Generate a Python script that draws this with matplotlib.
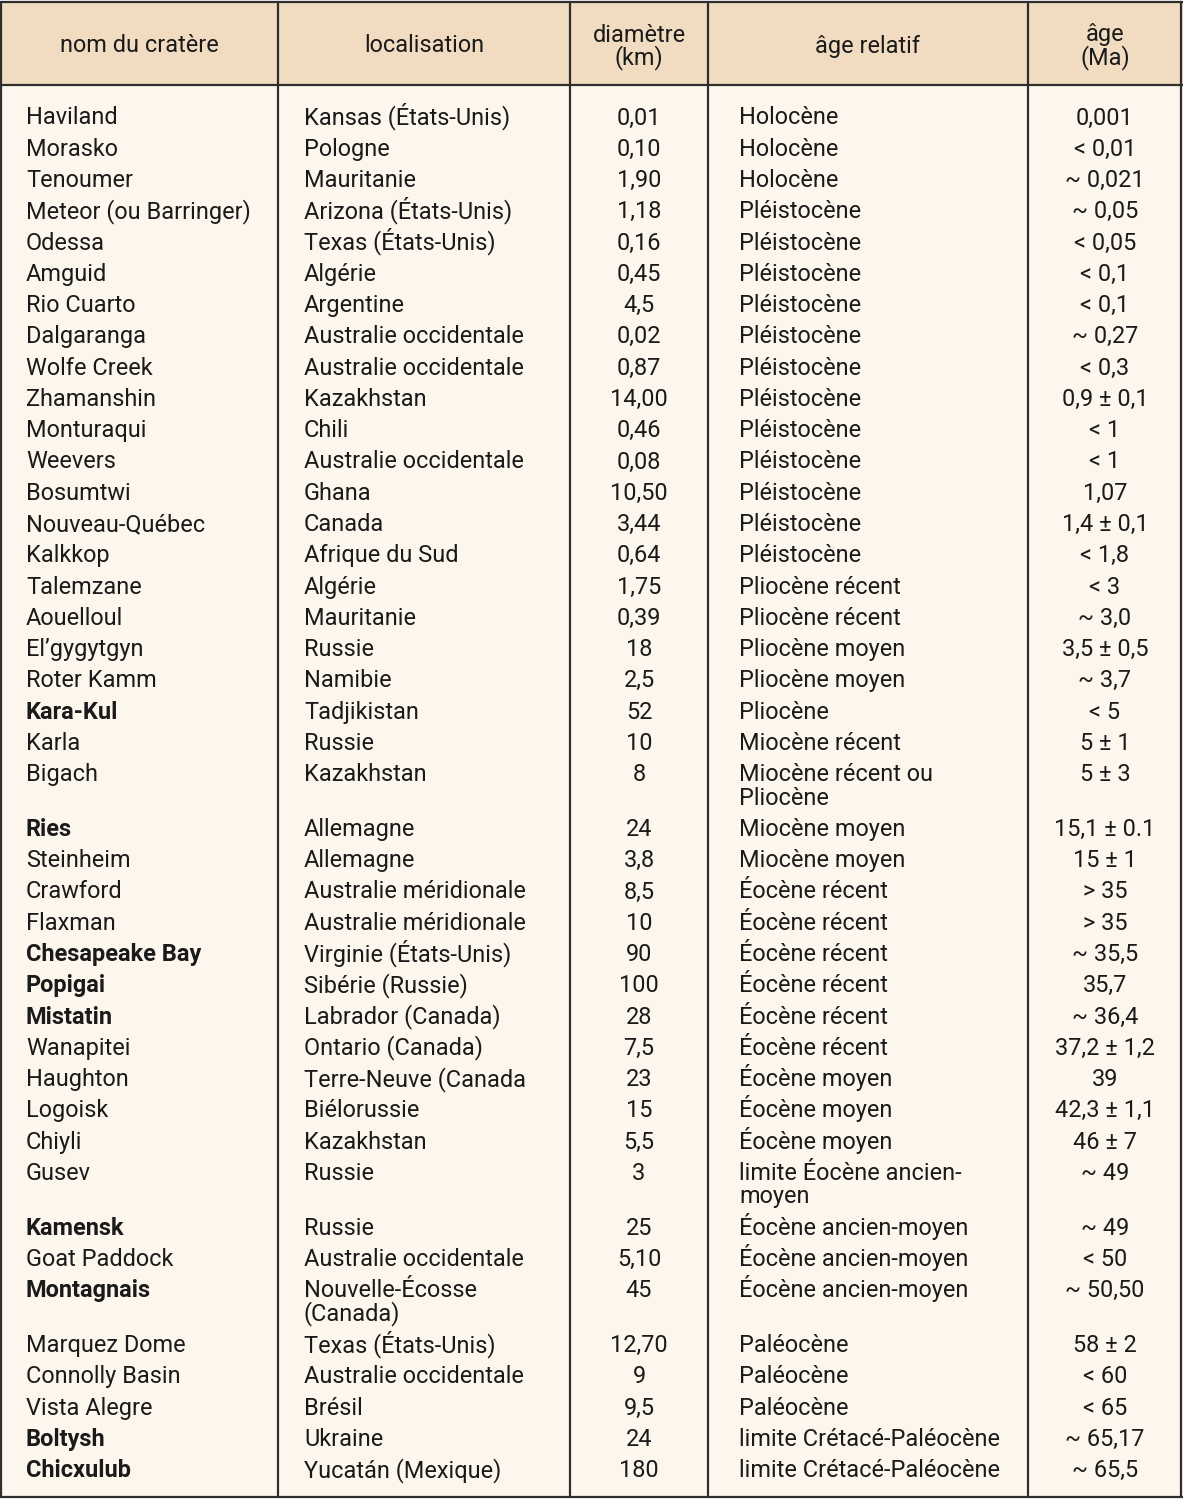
import matplotlib.pyplot as plt

# table content
headers = ["nom du cratère", "localisation", "diamètre\n(km)", "âge relatif", "âge\n(Ma)"]

noms = ["Haviland", "Morasko", "Tenoumer", "Meteor (ou Barringer)", "Odessa", "Amguid",
        "Rio Cuarto", "Dalgaranga", "Wolfe Creek", "Zhamanshin", "Monturaqui", "Weevers",
        "Bosumtwi", "Nouveau-Québec", "Kalkkop", "Talemzane", "Aouelloul", "El’gygytgyn",
        "Roter Kamm", "Kara-Kul", "Karla", "Bigach", "Ries", "Steinheim", "Crawford",
        "Flaxman", "Chesapeake Bay", "Popigai", "Mistatin", "Wanapitei", "Haughton",
        "Logoisk", "Chiyli", "Gusev", "Kamensk", "Goat Paddock", "Montagnais",
        "Marquez Dome", "Connolly Basin", "Vista Alegre", "Boltysh", "Chicxulub"]

localisations = ["Kansas (États-Unis)", "Pologne", "Mauritanie", "Arizona (États-Unis)",
                 "Texas (États-Unis)", "Algérie", "Argentine", "Australie occidentale",
                 "Australie occidentale", "Kazakhstan", "Chili", "Australie occidentale",
                 "Ghana", "Canada", "Afrique du Sud", "Algérie", "Mauritanie", "Russie",
                 "Namibie", "Tadjikistan", "Russie", "Kazakhstan", "Allemagne", "Allemagne",
                 "Australie méridionale", "Australie méridionale", "Virginie (États-Unis)",
                 "Sibérie (Russie)", "Labrador (Canada)", "Ontario (Canada)",
                 "Terre-Neuve (Canada", "Biélorussie", "Kazakhstan", "Russie", "Russie",
                 "Australie occidentale", "Nouvelle-Écosse\n(Canada)", "Texas (États-Unis)",
                 "Australie occidentale", "Brésil", "Ukraine", "Yucatán (Mexique)"]

diametres = ["0,01", "0,10", "1,90", "1,18", "0,16", "0,45", "4,5", "0,02", "0,87", "14,00",
             "0,46", "0,08", "10,50", "3,44", "0,64", "1,75", "0,39", "18", "2,5", "52", "10",
             "8", "24", "3,8", "8,5", "10", "90", "100", "28", "7,5", "23", "15", "5,5", "3",
             "25", "5,10", "45", "12,70", "9", "9,5", "24", "180"]

ages_relatifs = ["Holocène", "Holocène", "Holocène", "Pléistocène", "Pléistocène",
                 "Pléistocène", "Pléistocène", "Pléistocène", "Pléistocène", "Pléistocène",
                 "Pléistocène", "Pléistocène", "Pléistocène", "Pléistocène", "Pléistocène",
                 "Pliocène récent", "Pliocène récent", "Pliocène moyen", "Pliocène moyen",
                 "Pliocène", "Miocène récent", "Miocène récent ou\nPliocène", "Miocène moyen",
                 "Miocène moyen", "Éocène récent", "Éocène récent", "Éocène récent",
                 "Éocène récent", "Éocène récent", "Éocène récent", "Éocène moyen",
                 "Éocène moyen", "Éocène moyen", "limite Éocène ancien-\nmoyen",
                 "Éocène ancien-moyen", "Éocène ancien-moyen", "Éocène ancien-moyen",
                 "Paléocène", "Paléocène", "Paléocène", "limite Crétacé-Paléocène",
                 "limite Crétacé-Paléocène"]

ages = ["0,001", "< 0,01", "~ 0,021", "~ 0,05", "< 0,05", "< 0,1", "< 0,1", "~ 0,27", "< 0,3",
        "0,9 ± 0,1", "< 1", "< 1", "1,07", "1,4 ± 0,1", "< 1,8", "< 3", "~ 3,0", "3,5 ± 0,5",
        "~ 3,7", "< 5", "5 ± 1", "5 ± 3", "15,1 ± 0.1", "15 ± 1", "> 35", "> 35", "~ 35,5",
        "35,7", "~ 36,4", "37,2 ± 1,2", "39", "42,3 ± 1,1", "46 ± 7", "~ 49", "~ 49", "< 50",
        "~ 50,50", "58 ± 2", "< 60", "< 65", "~ 65,17", "~ 65,5"]

gras = ["Kara-Kul", "Ries", "Chesapeake Bay", "Popigai", "Mistatin", "Kamensk",
        "Montagnais", "Boltysh", "Chicxulub"]

W, H = 1183, 1500
fig = plt.figure(figsize=(W / 100, H / 100), dpi=100)
ax = fig.add_axes([0, 0, 1, 1])
ax.set_xlim(0, W)
ax.set_ylim(H, 0)
ax.axis("off")

header_bg = "#f1dcc1"
body_bg = "#fdf6ec"
line_col = "#2e2e2e"
txt_col = "#1a1a1a"
fs = 16.9
font = "Roboto"

col_edges = [1, 278, 570, 708, 1028, 1181]
header_bottom = 85
table_bottom = 1497

ax.add_patch(plt.Rectangle((1, 1), W - 2, header_bottom - 1, color=header_bg, zorder=0))
ax.add_patch(plt.Rectangle((1, header_bottom), W - 2, table_bottom - header_bottom,
                           color=body_bg, zorder=0))

# grid lines
for x in col_edges:
    ax.plot([x, x], [1, table_bottom], color=line_col, lw=1.6, solid_capstyle="butt")
for y in [1.5, header_bottom, table_bottom]:
    ax.plot([0, W], [y, y], color=line_col, lw=1.6, solid_capstyle="butt")

# headers
hx = [139, 424, 639, 868, 1105]
for x, h in zip(hx, headers):
    lines = h.split("\n")
    if len(lines) == 1:
        ax.text(x, 46, h, ha="center", va="center", fontsize=fs, family=font, color=txt_col)
    else:
        ax.text(x, 35, lines[0], ha="center", va="center", fontsize=fs, family=font, color=txt_col)
        ax.text(x, 58, lines[1], ha="center", va="center", fontsize=fs, family=font, color=txt_col)

# body
step = 31.27
extra = 23.5
base = 124.5
columns = [(noms, 26, "left"), (localisations, 304, "left"), (diametres, 639, "center"),
           (ages_relatifs, 739, "left"), (ages, 1105, "center")]
y = base
for i in range(len(noms)):
    nlines = max(len(c[0][i].split("\n")) for c in columns)
    for vals, x, ha in columns:
        weight = "bold" if (vals is noms and noms[i] in gras) else "normal"
        for k, line in enumerate(vals[i].split("\n")):
            ax.text(x, y + k * extra, line, ha=ha, va="baseline", fontsize=fs,
                    family=font, color=txt_col, fontweight=weight)
    y += step + (nlines - 1) * extra

fig.savefig("out.png", dpi=100)
